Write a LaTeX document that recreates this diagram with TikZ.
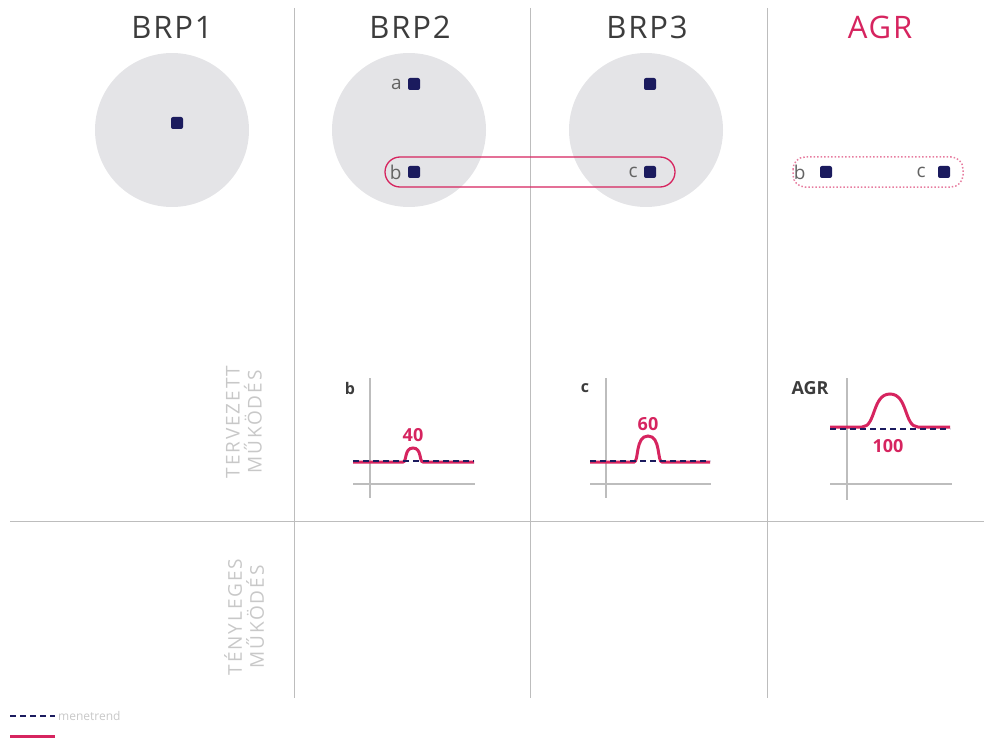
\documentclass[tikz,border=0pt]{standalone}
\usepackage{fontspec}
\setmainfont{Open Sans}
\usepackage{tikz}
\usetikzlibrary{positioning}
\definecolor{agrred}{HTML}{D6245F}
\definecolor{navy}{HTML}{1B1B5E}
\definecolor{bubble}{HTML}{E4E4E7}
\definecolor{rule}{HTML}{BDBDBD}
\definecolor{ink}{HTML}{3C3C3C}
\definecolor{faint}{HTML}{C8C8C8}
\tikzset{
  title/.style   = {font=\fontsize{31}{33}\selectfont\addfontfeature{LetterSpace=6}, text=ink},
  bubblebg/.style= {fill=bubble, draw=none},
  meter/.style   = {rectangle, rounded corners=2pt, fill=navy,
                    minimum size=12pt, inner sep=0pt},
  mlabel/.style  = {font=\fontsize{19}{20}\selectfont, text=ink!80, inner sep=0pt},
  axis/.style    = {draw=rule, line width=1.2pt},
  plan/.style    = {draw=navy, line width=1.3pt, dash pattern=on 6pt off 4pt},
  real/.style    = {draw=agrred, line width=3pt},
  value/.style   = {font=\bfseries\fontsize{18}{20}\selectfont, text=agrred},
  chartname/.style = {font=\bfseries\fontsize{16}{18}\selectfont, text=ink},
  rowname/.style = {rotate=90, align=center, text=faint,
                    font=\fontsize{19}{22}\selectfont\addfontfeature{LetterSpace=10}}
}

\begin{document}
\begin{tikzpicture}[x=1pt, y=-1pt]
\useasboundingbox (0,0) rectangle (984,738);

% grid
\draw [rule, line width=1pt] (294,8) -- (294,698);
\draw [rule, line width=1pt] (530,8) -- (530,698);
\draw [rule, line width=1pt] (767,8) -- (767,698);
\draw [rule, line width=1pt] (10,521) -- (984,521);

% titles
\node [title] (t1) at (172,27) {BRP1};
\node [title] (t2) at (410,27) {BRP2};
\node [title] (t3) at (647,27) {BRP3};
\node [title, text=agrred] (t4) at (880,27) {AGR};

% balancing groups
\fill [bubblebg] (172,130) circle (77);
\fill [bubblebg] (409,130) circle (77);
\fill [bubblebg] (646,130) circle (77);

% aggregation of b and c
\draw [agrred, line width=1.3pt, rounded corners=15pt] (385,157) rectangle (675,187);
\draw [agrred!60, line width=1.5pt, dotted, rounded corners=12pt] (793,157) rectangle (963,187);

% meters
\node [meter] (m1) at (177,123) {};
\node [meter] (ma) at (414,84) {};
\node [meter] (mb) at (414,172) {};
\node [meter] (m3) at (650,84) {};
\node [meter] (mc) at (650,172) {};
\node [meter] (gb) at (826,172) {};
\node [meter] (gc) at (944,172) {};
\node [mlabel, left=6pt of ma] (la) {a};
\node [mlabel, left=6pt of mb] (lb) {b};
\node [mlabel, left=6pt of mc] (lc) {c};
\node [mlabel, left=14pt of gb] (lgb) {b};
\node [mlabel, left=12pt of gc] (lgc) {c};

% row names
\node [rowname] (r1) at (244,422) {TERVEZETT\\MŰKÖDÉS};
\node [rowname] (r2) at (244,617) {TÉNYLEGES\\MŰKÖDÉS};

% chart b
\node [chartname] (cb) at (350,388) {b};
\draw [axis] (370,378) -- (370,498);
\draw [axis] (353,484) -- (475,484);
\draw [real] (353,462) -- (403,462) .. controls (407,462) and (404,448) .. (413,448)
             .. controls (422,448) and (419,462) .. (423,462) -- (474,462);
\draw [plan] (353,461) -- (474,461);
\node [value] (vb) at (413,435) {40};

% chart c
\node [chartname] (cc) at (585,388) {c};
\draw [axis] (606,378) -- (606,498);
\draw [axis] (590,484) -- (711,484);
\draw [real] (590,462) -- (634,462) .. controls (639,462) and (635,436) .. (648,436)
             .. controls (661,436) and (657,462) .. (662,462) -- (710,462);
\draw [plan] (590,461) -- (710,461);
\node [value] (vc) at (648,424) {60};

% chart AGR
\node [chartname, font=\bfseries\fontsize{18}{20}\selectfont] (ca) at (810,388) {AGR};
\draw [axis] (847,378) -- (847,500);
\draw [axis] (830,484) -- (952,484);
\draw [real] (830,427) -- (862,427) .. controls (876,427) and (872,394) .. (890,394)
             .. controls (908,394) and (904,427) .. (918,427) -- (950,427);
\draw [plan] (830,429) -- (950,429);
\node [value] (va) at (888,446) {100};

% legend
\coordinate (k1) at (10,716);
\coordinate (k2) at (55,716);
\draw [plan] (k1) -- (k2);
\node [right=3pt of k2, text=faint, font=\fontsize{12}{14}\selectfont, inner sep=0pt] (kt) {menetrend};
\coordinate (k3) at (10,736);
\coordinate (k4) at (55,736);
\draw [real] (k3) -- (k4);
\end{tikzpicture}
\end{document}
